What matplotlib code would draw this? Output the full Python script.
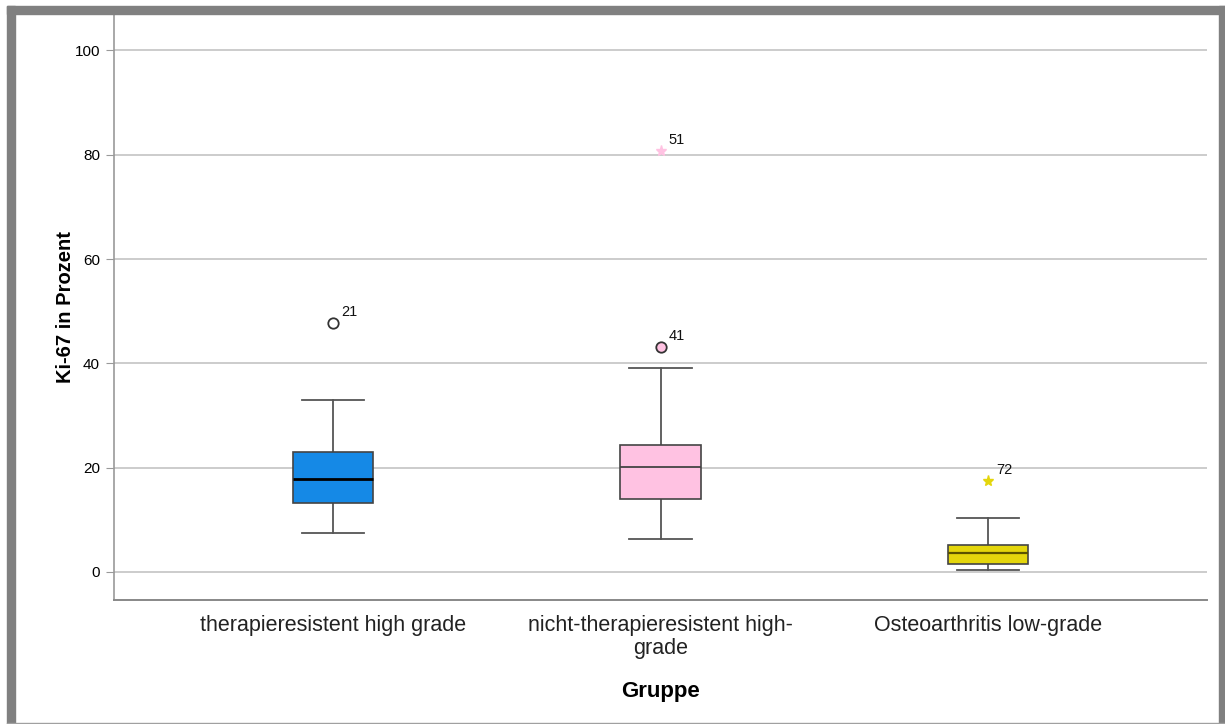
import matplotlib
matplotlib.use("Agg")
import matplotlib.pyplot as plt
from matplotlib.patches import Rectangle

plt.rcParams['font.family'] = ['Liberation Sans', 'DejaVu Sans']

categories = ["therapieresistent high grade", "nicht-therapieresistent high-\ngrade", "Osteoarthritis low-grade"]
q1 = [13.2, 14.0, 1.5]
med = [17.8, 20.1, 3.6]
q3 = [23.0, 24.3, 5.2]
whislo = [7.5, 6.3, 0.4]
whishi = [33.0, 39.1, 10.3]
colors = ["#1589e6", "#ffc2e2", "#e4d60c"]
median_colors = ["#000000", "#444444", "#5a5200"]
median_widths = [2.0, 1.3, 1.6]

# outliers: (group index, value, label, type)
out_group = [0, 1, 1, 2]
out_value = [47.7, 43.1, 80.7, 17.4]
out_label = ["21", "41", "51", "72"]
out_kind = ["circle", "circle", "star", "star"]

fig = plt.figure(figsize=(12.25, 7.24), dpi=100)
ax = fig.add_axes([114/1225, 1-600/724, (1207-114)/1225, (600-15)/724])

stats = []
for i in range(3):
    stats.append(dict(med=med[i], q1=q1[i], q3=q3[i], whislo=whislo[i], whishi=whishi[i], fliers=[]))

bp = ax.bxp(stats, positions=range(3), widths=0.245, patch_artist=True, showfliers=False,
            whiskerprops=dict(color="#555555", lw=1.3),
            capprops=dict(color="#555555", lw=1.3),
            boxprops=dict(edgecolor="#444444", lw=1.2))
for i, b in enumerate(bp['boxes']):
    b.set_facecolor(colors[i])
    b.set_zorder(3)
for i, m in enumerate(bp['medians']):
    m.set_color(median_colors[i])
    m.set_linewidth(median_widths[i])
    m.set_zorder(4)
for c in bp['caps']:
    x0, x1 = c.get_xdata()
    cx = (x0 + x1) / 2
    c.set_xdata([cx - 0.095, cx + 0.095])

for g, v, lab, k in zip(out_group, out_value, out_label, out_kind):
    if k == "circle":
        ax.plot(g, v, marker='o', ms=7.5, mfc=colors[g] if g > 0 else 'white', mec='#333333', mew=1.3, zorder=5)
    else:
        ax.plot(g, v, marker='*', ms=8, color=colors[g], mec=colors[g], zorder=5)
    ax.annotate(lab, (g, v), xytext=(6, 5), textcoords='offset points', fontsize=10.5, color='#111111')

ax.set_xlim(-0.67, 2.67)
ax.set_ylim(-5.4, 106.8)
ax.set_yticks([0, 20, 40, 60, 80, 100])
ax.yaxis.grid(True, color="#c8c8c8", lw=1.3)
ax.set_axisbelow(True)
ax.set_xticks(range(3))
ax.set_xticklabels(categories, fontsize=15.5, color='#222222', linespacing=1.12)
ax.tick_params(axis='x', length=0, pad=11)
ax.tick_params(axis='y', length=6, color='#999999', labelsize=11, pad=4)
for s in ['top', 'right']:
    ax.spines[s].set_visible(False)
ax.spines['left'].set_color('#999999')
ax.spines['bottom'].set_color('#888888')
ax.spines['left'].set_linewidth(1.2)
ax.spines['bottom'].set_linewidth(1.4)

ax.set_ylabel("Ki-67 in Prozent", fontsize=14.5, fontweight='bold', labelpad=0)
fig.text(660/1225, 1-692/724, "Gruppe", fontsize=16, fontweight='bold', ha='center', va='center')

# gray frame
gray = "#808080"
fig.patches.append(Rectangle((7/1225, 1-14/724), 1-7/1225, 8/724, transform=fig.transFigure, color=gray, zorder=10))
fig.patches.append(Rectangle((7/1225, 0), 8/1225, 1-6/724, transform=fig.transFigure, color=gray, zorder=10))
fig.patches.append(Rectangle((1219/1225, 0), 6/1225, 1-6/724, transform=fig.transFigure, color=gray, zorder=10))
fig.patches.append(Rectangle((7/1225, 0), 1-7/1225, 1.5/724, transform=fig.transFigure, color="#a0a0a0", zorder=10))

fig.savefig("out.png", dpi=100)
